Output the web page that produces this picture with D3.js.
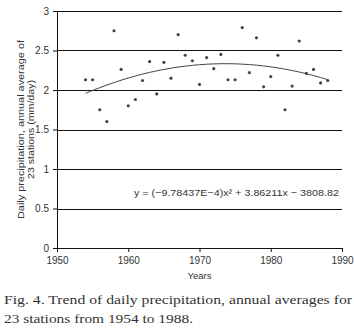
<!DOCTYPE html>
<html lang="en">
<head>
<meta charset="UTF-8">
<title>Trend of daily precipitation</title>
<style>
    body { margin: 0; background: #fff; }
    #chart { width: 354px; height: 332px; }
    .tick text { font-family: 'Liberation Sans', Arial, sans-serif; font-size: 10px; fill: #333; }
    .axis-title { font-family: 'Liberation Sans', Arial, sans-serif; font-size: 9.5px; fill: #333; }
    .caption { font-family: 'Liberation Serif', 'Times New Roman', serif; font-size: 13px; fill: #333; }
</style>
</head>
<body>
<div id="chart"></div>
<script src="https://d3js.org/d3.v7.min.js"></script>
<script>
    const years = d3.range(1954, 1989);
    const precip = [2.13, 2.13, 1.75, 1.60, 2.75, 2.26, 1.80, 1.88, 2.12, 2.36,
                    1.95, 2.35, 2.15, 2.70, 2.44, 2.37, 2.07, 2.41, 2.27, 2.45,
                    2.13, 2.13, 2.79, 2.22, 2.66, 2.04, 2.17, 2.44, 1.75, 2.05,
                    2.62, 2.21, 2.26, 2.09, 2.12];
    const xTicks = [1950, 1960, 1970, 1980, 1990];
    const yTicks = [0, 0.5, 1, 1.5, 2, 2.5, 3];
    // fitted curve coefficients, shown on the chart
    const coef = { a: -9.78437E-4, b: 3.86211, c: -3808.82 };

    const width = 354, height = 332;
    const margin = { top: 11, right: 12, bottom: 84, left: 57 };
    const w = width - margin.left - margin.right;
    const h = height - margin.top - margin.bottom;

    const svg = d3.select("#chart").append("svg")
        .attr("width", width)
        .attr("height", height);

    const g = svg.append("g")
        .attr("transform", `translate(${margin.left},${margin.top})`);

    const x = d3.scaleLinear().domain([1950, 1990]).range([0, w]);
    const y = d3.scaleLinear().domain([0, 3]).range([h, 0]);

    // horizontal gridlines
    g.selectAll(".grid")
        .data(yTicks.filter(d => d > 0))
        .enter().append("line")
        .attr("class", "grid")
        .attr("x1", 0).attr("x2", w)
        .attr("y1", d => Math.round(y(d)) + 0.5).attr("y2", d => Math.round(y(d)) + 0.5)
        .attr("stroke", "#111")
        .attr("stroke-width", 1);

    const xAxis = g.append("g")
        .attr("transform", `translate(0,${h})`)
        .call(d3.axisBottom(x).tickValues(xTicks).tickFormat(d3.format("d")).tickSizeOuter(0).tickSize(4).tickPadding(5));
    xAxis.select(".domain").attr("stroke", "#111");
    xAxis.selectAll(".tick line").attr("stroke", "#111");

    const yAxis = g.append("g")
        .call(d3.axisLeft(y).tickValues(yTicks).tickFormat(d => d).tickSizeOuter(0).tickSize(4).tickPadding(4));
    yAxis.select(".domain").attr("stroke", "#111");
    yAxis.selectAll(".tick line").attr("stroke", "#111");

    // trend line
    const fit = t => coef.a * t * t + coef.b * t + coef.c;
    const line = d3.line()
        .x(d => x(d))
        .y(d => y(fit(d)))
        .curve(d3.curveBasis);
    g.append("path")
        .datum(years)
        .attr("d", line)
        .attr("fill", "none")
        .attr("stroke", "#444")
        .attr("stroke-width", 1);

    // data points
    g.selectAll(".dot")
        .data(years)
        .enter().append("circle")
        .attr("class", "dot")
        .attr("cx", d => x(d))
        .attr("cy", (d, i) => y(precip[i]))
        .attr("r", 1.6)
        .attr("fill", "#444");

    g.append("text")
        .attr("class", "axis-title")
        .attr("x", x(1960.8))
        .attr("y", y(0.66) + 0.5)
        .attr("textLength", 205)
        .attr("lengthAdjust", "spacingAndGlyphs")
        .text("y = (\u22129.78437E\u22124)x\u00b2 + 3.86211x \u2212 3808.82");

    g.append("text")
        .attr("class", "axis-title")
        .attr("x", w / 2)
        .attr("y", h + 31)
        .attr("text-anchor", "middle")
        .text("Years");

    const yTitle = g.append("text")
        .attr("class", "axis-title")
        .attr("transform", `translate(-33,${h / 2}) rotate(-90)`)
        .attr("text-anchor", "middle");
    yTitle.append("tspan").attr("x", 0).attr("dy", 0)
        .attr("textLength", 179).attr("lengthAdjust", "spacingAndGlyphs")
        .text("Daily precipitation, annual average of");
    yTitle.append("tspan").attr("x", 0).attr("dy", "1.05em")
        .attr("textLength", 99).attr("lengthAdjust", "spacingAndGlyphs")
        .text("23 stations (mm/day)");

    const cap = svg.append("text").attr("class", "caption");
    cap.append("tspan").attr("x", 4).attr("y", 303.5)
        .attr("textLength", 348).attr("lengthAdjust", "spacingAndGlyphs")
        .text("Fig. 4. Trend of daily precipitation, annual averages for");
    cap.append("tspan").attr("x", 4).attr("y", 323)
        .attr("textLength", 189).attr("lengthAdjust", "spacingAndGlyphs")
        .text("23 stations from 1954 to 1988.");
</script>
</body>
</html>
